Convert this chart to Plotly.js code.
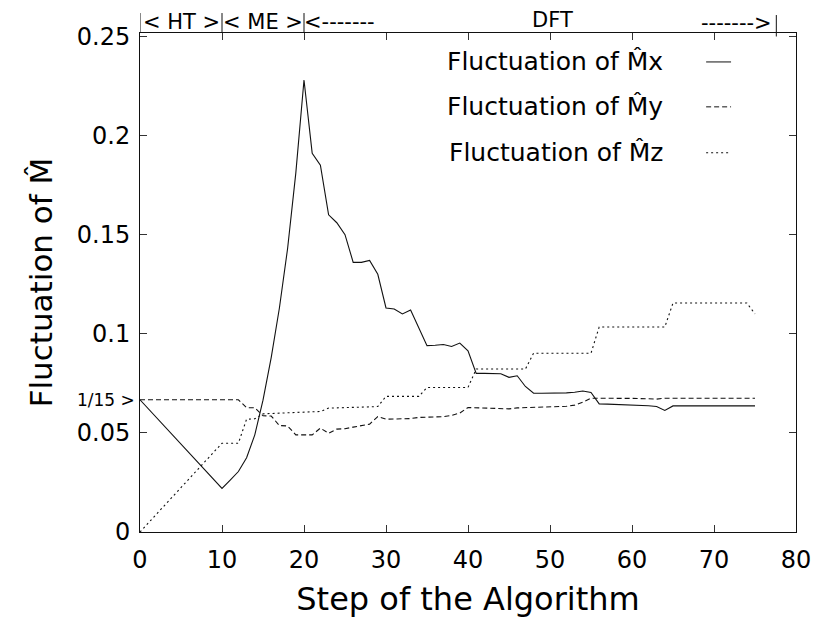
<!DOCTYPE html>
<html>
<head>
<meta charset="utf-8">
<script src="https://cdn.plot.ly/plotly-3.0.1.min.js"></script>
<style>
  html, body { margin: 0; padding: 0; background: #ffffff; }
  #chart { width: 817px; height: 621px; }
</style>
</head>
<body>
<div id="chart"></div>
<script>
// ---- data ----
const steps = Array.from({length: 76}, (_, i) => i); // step 0 .. 75

const fluctMx = [
  0.0667, 0.0622, 0.0577, 0.0532, 0.0487, 0.0443, 0.0398, 0.0353, 0.0309, 0.0264,
  0.0220, 0.0262, 0.0305, 0.0375, 0.0490, 0.0665, 0.0880, 0.1130, 0.1430, 0.1810,
  0.2280, 0.1910, 0.1850, 0.1600, 0.1560, 0.1500, 0.1360, 0.1360, 0.1370, 0.1300,
  0.1130, 0.1125, 0.1100, 0.1120, 0.1030, 0.0940, 0.0942, 0.0946, 0.0936, 0.0953,
  0.0914, 0.0800, 0.0800, 0.0798, 0.0798, 0.0780, 0.0788, 0.0734, 0.0700, 0.0700,
  0.0700, 0.0701, 0.0702, 0.0705, 0.0711, 0.0704, 0.0646, 0.0645, 0.0644, 0.0643,
  0.0642, 0.0640, 0.0637, 0.0633, 0.0613, 0.0636, 0.0636, 0.0636, 0.0636, 0.0636,
  0.0636, 0.0636, 0.0636, 0.0636, 0.0636, 0.0636
];

const fluctMy = [
  0.0667, 0.0667, 0.0667, 0.0667, 0.0667, 0.0667, 0.0667, 0.0667, 0.0667, 0.0667,
  0.0667, 0.0667, 0.0667, 0.0627, 0.0627, 0.0586, 0.0585, 0.0537, 0.0535, 0.0490,
  0.0490, 0.0490, 0.0524, 0.0498, 0.0519, 0.0521, 0.0529, 0.0535, 0.0544, 0.0582,
  0.0569, 0.0570, 0.0571, 0.0572, 0.0578, 0.0580, 0.0581, 0.0582, 0.0588, 0.0600,
  0.0628, 0.0626, 0.0626, 0.0625, 0.0623, 0.0621, 0.0626, 0.0627, 0.0627, 0.0628,
  0.0629, 0.0631, 0.0634, 0.0640, 0.0655, 0.0675, 0.0674, 0.0674, 0.0674, 0.0674,
  0.0674, 0.0674, 0.0672, 0.0670, 0.0675, 0.0675, 0.0675, 0.0675, 0.0675, 0.0675,
  0.0675, 0.0675, 0.0675, 0.0675, 0.0675, 0.0675
];

const fluctMz = [
  0.0000, 0.0045, 0.0090, 0.0134, 0.0179, 0.0224, 0.0269, 0.0314, 0.0358, 0.0403,
  0.0448, 0.0448, 0.0448, 0.0569, 0.0571, 0.0596, 0.0598, 0.0600, 0.0601, 0.0603,
  0.0604, 0.0606, 0.0608, 0.0625, 0.0627, 0.0628, 0.0629, 0.0630, 0.0631, 0.0633,
  0.0684, 0.0684, 0.0684, 0.0684, 0.0684, 0.0729, 0.0729, 0.0729, 0.0729, 0.0729,
  0.0729, 0.0822, 0.0822, 0.0822, 0.0822, 0.0822, 0.0822, 0.0822, 0.0902, 0.0902,
  0.0902, 0.0902, 0.0902, 0.0902, 0.0902, 0.0902, 0.1034, 0.1034, 0.1034, 0.1034,
  0.1034, 0.1034, 0.1034, 0.1034, 0.1034, 0.1155, 0.1155, 0.1155, 0.1155, 0.1155,
  0.1155, 0.1155, 0.1155, 0.1155, 0.1155, 0.1100
];

const xTicks = [0, 10, 20, 30, 40, 50, 60, 70, 80];
const yTicks = [0, 0.05, 0.1, 0.15, 0.2, 0.25];
const yTickText = ['0', '0.05', '0.1', '0.15', '0.2', '0.25'];

const seriesNames = ['Fluctuation of M\u0302x', 'Fluctuation of M\u0302y', 'Fluctuation of M\u0302z'];
const phaseLabels = ['< HT >', '< ME >', '<-------', 'DFT', '------->'];
const phaseBounds = [0, 10, 20];

// ---- styling ----
const FONT = 'DejaVu Sans, Liberation Sans, Arial, sans-serif';
const INK = '#111111';
const dashes = ['solid', '5px,3px', '2px,3px'];

const traces = [fluctMx, fluctMy, fluctMz].map((vals, k) => ({
  type: 'scatter',
  mode: 'lines',
  x: steps,
  y: vals,
  name: seriesNames[k],
  line: {color: INK, width: 1.1, dash: dashes[k]},
  showlegend: false,
  hoverinfo: 'skip'
}));

// legend drawn as text on the left, sample line on the right (as in the reference)
const legendY = [0.942, 0.852, 0.760];
const annotations = [];
const shapes = [];
seriesNames.forEach((nm, k) => {
  annotations.push({
    xref: 'paper', yref: 'paper', x: 0.801, y: legendY[k],
    xanchor: 'right', yanchor: 'middle', showarrow: false,
    text: nm, font: {family: FONT, size: 25, color: '#000'}
  });
  shapes.push({
    type: 'line', xref: 'paper', yref: 'paper',
    x0: 0.863, x1: 0.901, y0: legendY[k], y1: legendY[k],
    line: {color: INK, width: 1, dash: dashes[k]}
  });
});

// phase labels above the plot
const PH = 21;
annotations.push(
  {xref: 'x', yref: 'paper', x: 5, y: 1.022, xanchor: 'center', yanchor: 'middle', showarrow: false,
   text: phaseLabels[0], font: {family: FONT, size: PH, color: '#000'}},
  {xref: 'x', yref: 'paper', x: 15, y: 1.022, xanchor: 'center', yanchor: 'middle', showarrow: false,
   text: phaseLabels[1], font: {family: FONT, size: PH, color: '#000'}},
  {xref: 'x', yref: 'paper', x: 20, y: 1.022, xanchor: 'left', yanchor: 'middle', showarrow: false,
   xshift: -2, text: phaseLabels[2], font: {family: FONT, size: PH, color: '#000'}},
  {xref: 'x', yref: 'paper', x: 50.3, y: 1.027, xanchor: 'center', yanchor: 'middle', showarrow: false,
   text: phaseLabels[3], font: {family: FONT, size: PH, color: '#000'}},
  {xref: 'x', yref: 'paper', x: 77.3, y: 1.021, xanchor: 'right', yanchor: 'middle', showarrow: false,
   text: phaseLabels[4], font: {family: FONT, size: PH, color: '#000'}},
  {xref: 'paper', yref: 'y', x: -0.004, y: 1/15, xanchor: 'right', yanchor: 'middle', showarrow: false,
   text: '1/15 >', font: {family: FONT, size: 17, color: '#000'}}
);
phaseBounds.forEach(b => {
  shapes.push({type: 'line', xref: 'x', yref: 'paper', x0: b, x1: b, y0: 1.0, y1: 1.040,
               line: {color: INK, width: 1}});
});
shapes.push({type: 'line', xref: 'x', yref: 'paper', x0: 77.6, x1: 77.6, y0: 0.993, y1: 1.036,
             line: {color: INK, width: 1}});

const layout = {
  width: 817, height: 621,
  margin: {l: 140, r: 21, t: 33, b: 89, pad: 0},
  paper_bgcolor: '#ffffff', plot_bgcolor: '#ffffff',
  font: {family: FONT, color: '#000'},
  showlegend: false,
  xaxis: {
    range: [0, 80], autorange: false,
    tickmode: 'array', tickvals: xTicks, ticktext: xTicks.map(String),
    ticks: 'inside', ticklen: 7, tickwidth: 1, tickcolor: '#333',
    showline: true, linecolor: INK, linewidth: 1, mirror: 'ticks',
    showgrid: false, zeroline: false,
    tickfont: {family: FONT, size: 24, color: '#000'},
    ticklabelstandoff: 6,
    title: {text: 'Step of the Algorithm', font: {family: FONT, size: 32, color: '#000'}, standoff: 14}
  },
  yaxis: {
    range: [0, 0.2517], autorange: false,
    tickmode: 'array', tickvals: yTicks, ticktext: yTickText,
    ticks: 'inside', ticklen: 7, tickwidth: 1, tickcolor: '#333',
    showline: true, linecolor: INK, linewidth: 1, mirror: 'ticks',
    showgrid: false, zeroline: false,
    tickfont: {family: FONT, size: 24, color: '#000'},
    ticklabelstandoff: 4,
    title: {text: 'Fluctuation of M\u0302', font: {family: FONT, size: 31, color: '#000'}, standoff: 14}
  },
  annotations: annotations,
  shapes: shapes
};

Plotly.newPlot('chart', traces, layout, {staticPlot: true, displayModeBar: false});
</script>
</body>
</html>
